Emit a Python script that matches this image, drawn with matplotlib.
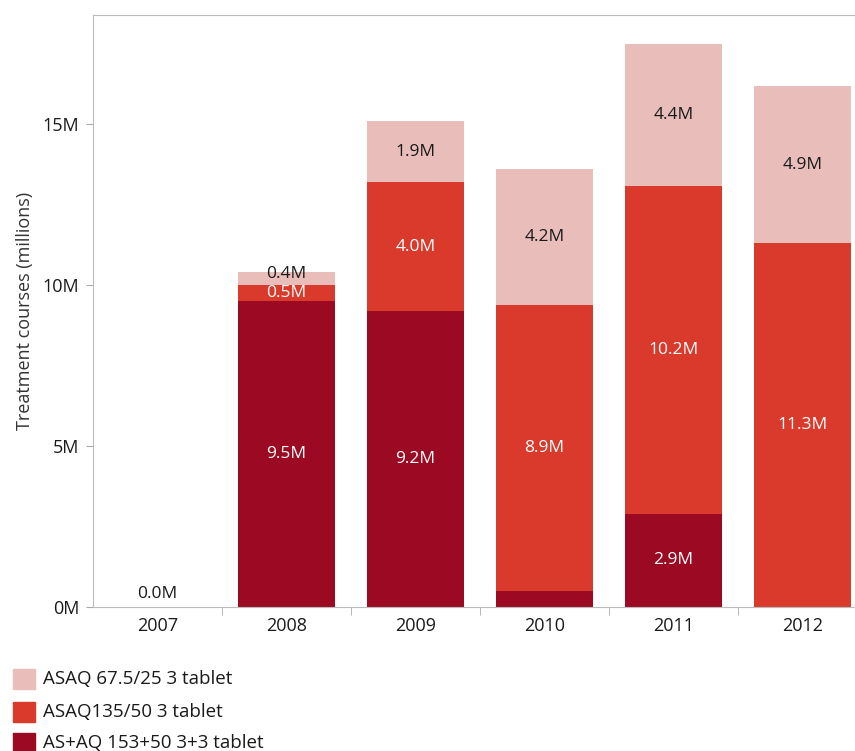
import matplotlib.pyplot as plt
import numpy as np

plt.rcParams["font.family"] = ["Open Sans", "DejaVu Sans"]

years = ["2007", "2008", "2009", "2010", "2011", "2012"]
as_aq = [0.0, 9.5, 9.2, 0.5, 2.9, 0.0]
asaq_135 = [0.0, 0.5, 4.0, 8.9, 10.2, 11.3]
asaq_67 = [0.0, 0.4, 1.9, 4.2, 4.4, 4.9]

as_aq_labels = ["0.0M", "9.5M", "9.2M", None, "2.9M", None]
asaq_135_labels = [None, "0.5M", "4.0M", "8.9M", "10.2M", "11.3M"]
asaq_67_labels = [None, "0.4M", "1.9M", "4.2M", "4.4M", "4.9M"]

series_names = ["ASAQ 67.5/25 3 tablet", "ASAQ135/50 3 tablet", "AS+AQ 153+50 3+3 tablet"]
colors = ["#e8bdba", "#d93a2b", "#9b0a22"]

fig = plt.figure(figsize=(8.55, 7.51), dpi=100)
ax = fig.add_axes([93 / 855, 1 - 607 / 751, 774 / 855, 592 / 751])

x = np.arange(len(years))
w = 0.745
a = np.array(as_aq)
b = np.array(asaq_135)
c = np.array(asaq_67)

ax.bar(x, a, w, color=colors[2])
ax.bar(x, b, w, bottom=a, color=colors[1])
ax.bar(x, c, w, bottom=a + b, color=colors[0])

fs = 12.5
for i in range(len(years)):
    if as_aq_labels[i]:
        if a[i] == 0:
            ax.text(x[i], 0.15, as_aq_labels[i], ha="center", va="bottom",
                    fontsize=fs, color="#1a1a1a")
        else:
            ax.text(x[i], a[i] / 2, as_aq_labels[i], ha="center", va="center",
                    fontsize=fs, color="white")
    if asaq_135_labels[i]:
        ax.text(x[i], a[i] + b[i] / 2, asaq_135_labels[i], ha="center",
                va="center", fontsize=fs, color="white")
    if asaq_67_labels[i]:
        ax.text(x[i], a[i] + b[i] + c[i] / 2 + (0.15 if c[i] < 1 else 0),
                asaq_67_labels[i], ha="center", va="center", fontsize=fs,
                color="#1a1a1a")

ax.set_xlim(-0.5, len(years) - 0.5)
ax.set_ylim(0, 18.4)
ax.set_yticks([0, 5, 10, 15])
ax.set_yticklabels(["0M", "5M", "10M", "15M"])
ax.set_xticks(x)
ax.set_xticklabels(years)
ax.set_xticks(np.arange(0.5, len(years) - 1, 1), minor=True)
ax.tick_params(axis="x", which="major", length=0, labelsize=13, pad=7,
               labelcolor="#1a1a1a")
ax.tick_params(axis="x", which="minor", length=6, color="#aaaaaa", direction="out")
ax.tick_params(axis="y", length=5, color="#aaaaaa", labelsize=13, pad=5,
               labelcolor="#1a1a1a")
ax.set_ylabel("Treatment courses (millions)", fontsize=13, color="#333333", labelpad=6)

for s in ["left", "bottom", "top"]:
    ax.spines[s].set_color("#bbbbbb")
ax.spines["right"].set_visible(False)

# legend below the chart
legend_y = [679, 712, 743]
for name, col, ly in zip(series_names, colors, legend_y):
    fig.patches.append(plt.Rectangle((13 / 855, 1 - (ly + 10) / 751), 22 / 855, 20 / 751,
                                     transform=fig.transFigure, color=col))
    fig.text(43 / 855, 1 - ly / 751, name, ha="left", va="center", fontsize=13.5,
             color="#1a1a1a")

fig.savefig("out.png", dpi=100)
